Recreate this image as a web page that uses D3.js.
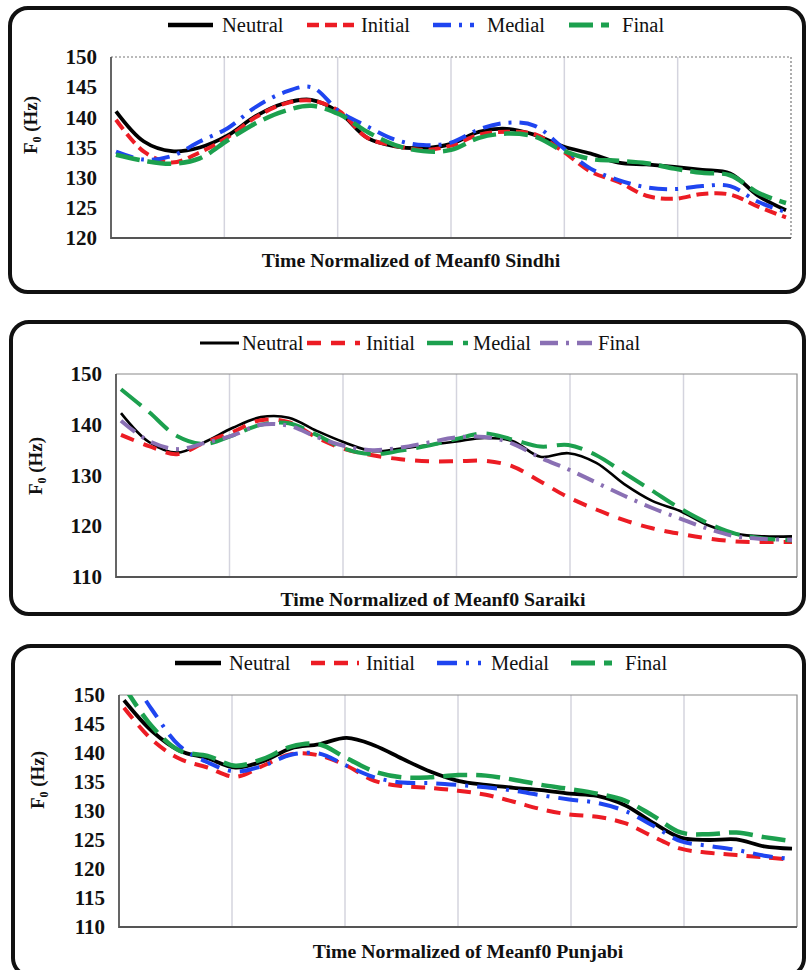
<!DOCTYPE html>
<html>
<head>
<meta charset="utf-8">
<script src="https://cdn.jsdelivr.net/npm/d3@7"></script>
<style>
  body { margin: 0; background: #fff; }
  svg { display: block; font-family: "Liberation Serif", "Times New Roman", serif; }
</style>
</head>
<body>
<svg id="chart" width="806" height="970"></svg>
<script>
// === Données (F0 moyen en Hz, 25 points de temps normalisé) ===
const timeSteps = d3.range(25);

const sindhiNeutral = [141.0,136.0,134.4,135.0,137.0,140.2,142.3,142.9,140.8,136.6,135.2,134.9,135.6,137.6,138.1,137.1,135.2,134.0,132.5,132.2,131.8,131.3,130.7,127.0,124.6];
const sindhiInitial = [139.6,134.3,132.5,134.2,136.7,140.0,142.2,142.8,141.0,136.6,135.3,134.6,135.3,137.1,137.6,137.2,134.4,131.0,129.3,127.0,126.5,127.3,127.2,125.2,123.4];
const sindhiMedial  = [134.3,133.0,133.6,136.0,138.2,141.7,144.1,145.0,141.0,138.5,136.3,135.4,135.8,138.0,139.1,138.6,135.0,131.5,129.6,128.4,128.1,128.6,128.6,126.0,124.3];
const sindhiFinal   = [133.8,132.8,132.3,133.2,136.2,139.0,141.0,141.9,140.5,137.6,135.4,134.4,134.6,136.6,137.3,136.8,134.5,133.1,132.8,132.4,131.5,130.8,130.4,127.5,125.8];

const saraikiNeutral = [142.3,136.6,134.5,136.6,139.4,141.5,141.4,138.8,136.5,134.8,135.3,136.0,136.7,137.4,136.8,133.7,134.4,132.5,128.3,125.0,123.0,120.2,118.5,118.0,118.0];
const saraikiInitial = [138.0,135.8,134.2,136.5,138.6,140.9,140.5,137.5,135.2,134.0,133.2,132.8,132.8,132.9,131.8,128.8,125.7,123.3,121.2,119.6,118.5,117.6,117.0,116.9,116.9];
const saraikiMedial  = [147.0,142.5,137.8,136.2,137.9,140.0,140.3,138.0,135.3,134.2,134.9,135.9,137.2,138.3,137.1,135.7,136.0,134.0,130.5,127.0,123.5,120.6,118.5,117.6,117.2];
const saraikiFinal   = [140.8,136.8,135.2,136.4,137.9,140.0,139.8,137.6,135.8,135.0,135.5,136.5,137.5,137.6,136.3,133.5,131.2,128.6,126.0,123.6,121.5,119.5,118.0,117.5,117.3];

const punjabiNeutral = [149.1,143.8,140.4,139.1,137.5,138.6,140.8,141.5,142.6,141.3,139.0,136.8,135.2,134.5,134.0,133.6,133.0,132.6,131.0,128.0,125.4,125.0,125.1,123.9,123.5];
const punjabiInitial = [147.8,142.3,139.0,137.5,135.9,137.8,139.8,139.6,137.8,135.2,134.3,134.0,133.5,132.8,131.6,130.3,129.4,129.0,127.9,125.6,123.5,122.8,122.4,122.0,121.6];
const punjabiMedial  = [155.0,147.5,141.2,138.4,136.8,137.8,139.7,139.9,137.8,135.8,134.9,134.8,134.5,134.1,133.5,132.7,132.0,131.4,130.0,127.5,124.8,124.0,123.3,122.3,121.7];
const punjabiFinal   = [151.5,144.6,140.4,139.5,137.8,139.0,141.1,141.5,139.1,136.8,135.8,135.8,136.2,136.1,135.4,134.5,133.8,133.0,131.8,129.2,126.3,126.0,126.3,125.5,124.8];

const ticksSindhi  = [120,125,130,135,140,145,150];
const ticksSaraiki = [110,120,130,140,150];
const ticksPunjabi = [110,115,120,125,130,135,140,145,150];

const titleSindhi  = 'Time Normalized of Meanf0 Sindhi';
const titleSaraiki = 'Time Normalized of Meanf0 Saraiki';
const titlePunjabi = 'Time Normalized of Meanf0 Punjabi';

// couleurs
const RED = '#ec1c24', BLUE = '#1f45f0', GREEN = '#1ca04e', PURPLE = '#8a70b4', BLACK = '#000';

const panels = [
  {
    box: [10, 8, 794, 284], plot: { l: 111, r: 791, t: 57, b: 238 },
    yDomain: [120, 150], ticks: ticksSindhi, title: titleSindhi, titleX: 411, titleY: 267,
    legendY: 25, ylabelX: 30, ylabelY: 125, dottedFrame: true,
    series: [
      { label: 'Neutral', values: sindhiNeutral, color: BLACK, dash: null, width: 3.8, lx: [168, 213], tx: 222 },
      { label: 'Initial', values: sindhiInitial, color: RED, dash: '12,6', width: 4, lx: [307, 354], tx: 361 },
      { label: 'Medial', values: sindhiMedial, color: BLUE, dash: '18,8,3,8', width: 4, lx: [433, 474], tx: 487 },
      { label: 'Final', values: sindhiFinal, color: GREEN, dash: '24,8', width: 4.5, lx: [569, 609], tx: 622 }
    ]
  },
  {
    box: [11, 322, 793, 292], plot: { l: 116, r: 797, t: 374, b: 577 },
    yDomain: [110, 150], ticks: ticksSaraiki, title: titleSaraiki, titleX: 433, titleY: 606,
    legendY: 343, ylabelX: 35, ylabelY: 466, dottedFrame: false,
    series: [
      { label: 'Neutral', values: saraikiNeutral, color: BLACK, dash: null, width: 2.6, lx: [200, 239], tx: 242 },
      { label: 'Initial', values: saraikiInitial, color: RED, dash: '14,10', width: 4, lx: [307, 360], tx: 366 },
      { label: 'Medial', values: saraikiMedial, color: GREEN, dash: '26,10', width: 4, lx: [427, 468], tx: 473 },
      { label: 'Final', values: saraikiFinal, color: PURPLE, dash: '18,8,3,8', width: 4, lx: [540, 592], tx: 598 }
    ]
  },
  {
    box: [13, 646, 791, 330], plot: { l: 119, r: 797, t: 695, b: 927 },
    yDomain: [110, 150], ticks: ticksPunjabi, title: titlePunjabi, titleX: 468, titleY: 958,
    legendY: 663, ylabelX: 37, ylabelY: 780, dottedFrame: false,
    series: [
      { label: 'Neutral', values: punjabiNeutral, color: BLACK, dash: null, width: 3.8, lx: [175, 221], tx: 229 },
      { label: 'Initial', values: punjabiInitial, color: RED, dash: '14,9', width: 4, lx: [311, 359], tx: 366 },
      { label: 'Medial', values: punjabiMedial, color: BLUE, dash: '20,9,3,9', width: 4, lx: [437, 481], tx: 491 },
      { label: 'Final', values: punjabiFinal, color: GREEN, dash: '24,9', width: 4.5, lx: [571, 612], tx: 625 }
    ]
  }
];

const svg = d3.select('#chart');
svg.append('rect').attr('width', 806).attr('height', 970).attr('fill', '#fff');

panels.forEach((p, idx) => {
  const g = svg.append('g');
  const { l, r, t, b } = p.plot;

  // cadre arrondi
  g.append('rect')
    .attr('x', p.box[0]).attr('y', p.box[1])
    .attr('width', p.box[2]).attr('height', p.box[3])
    .attr('rx', 18).attr('ry', 18)
    .attr('fill', 'none').attr('stroke', '#111').attr('stroke-width', 4);

  const x = d3.scaleLinear().domain([0, 24]).range([l + 5, r - 5]);
  const y = d3.scaleLinear().domain(p.yDomain).range([b, t]);

  // grille verticale
  g.append('g').selectAll('line')
    .data(d3.range(1, 6))
    .join('line')
    .attr('x1', d => l + (r - l) * d / 6).attr('x2', d => l + (r - l) * d / 6)
    .attr('y1', t).attr('y2', b)
    .attr('stroke', '#d4d4de').attr('stroke-width', 1.5);

  // bord haut / droit
  g.append('path')
    .attr('d', `M${l},${t}H${r}V${b}`)
    .attr('fill', 'none')
    .attr('stroke', p.dottedFrame ? '#777' : '#8a8a8a')
    .attr('stroke-width', 1.2)
    .attr('stroke-dasharray', p.dottedFrame ? '2,2' : null);

  // axes
  g.append('path')
    .attr('d', `M${l},${t}V${b}H${r}`)
    .attr('fill', 'none').attr('stroke', '#555').attr('stroke-width', 1.8);

  const yAxis = g.append('g')
    .attr('transform', `translate(${l},0)`)
    .call(d3.axisLeft(y).tickValues(p.ticks).tickSize(0).tickPadding(14).tickFormat(d3.format('d')));
  yAxis.select('.domain').remove();
  yAxis.selectAll('text')
    .attr('font-family', '"Liberation Serif", serif')
    .attr('font-size', 21).attr('font-weight', 'bold').attr('fill', '#111');

  // courbes
  const clipId = 'clip' + idx;
  svg.append('clipPath').attr('id', clipId)
    .append('rect').attr('x', l).attr('y', t).attr('width', r - l).attr('height', b - t);

  const line = d3.line()
    .x((d, i) => x(timeSteps[i]))
    .y(d => y(d))
    .curve(d3.curveCatmullRom.alpha(0.5));

  const lines = g.append('g').attr('clip-path', `url(#${clipId})`);
  p.series.forEach(s => {
    lines.append('path')
      .attr('d', line(s.values))
      .attr('fill', 'none')
      .attr('stroke', s.color)
      .attr('stroke-width', s.width)
      .attr('stroke-dasharray', s.dash)
      .attr('stroke-linejoin', 'round');
  });

  // légende
  const leg = g.append('g');
  p.series.forEach(s => {
    leg.append('line')
      .attr('x1', s.lx[0]).attr('x2', s.lx[1])
      .attr('y1', p.legendY).attr('y2', p.legendY)
      .attr('stroke', s.color).attr('stroke-width', s.width + 0.5)
      .attr('stroke-dasharray', s.dash);
    leg.append('text')
      .attr('x', s.tx).attr('y', p.legendY + 7)
      .attr('font-size', 20.5).attr('fill', '#111')
      .text(s.label);
  });

  // titre de l'axe x
  g.append('text')
    .attr('x', p.titleX).attr('y', p.titleY)
    .attr('text-anchor', 'middle')
    .attr('font-size', 19.8).attr('font-weight', 'bold').attr('fill', '#111')
    .text(p.title);

  // titre de l'axe y : F0 (Hz)
  const yl = g.append('text')
    .attr('transform', `translate(${p.ylabelX + 7},${p.ylabelY}) rotate(-90)`)
    .attr('text-anchor', 'middle')
    .attr('font-size', 19).attr('font-weight', 'bold').attr('fill', '#111');
  yl.append('tspan').text('F');
  yl.append('tspan').attr('font-size', 12).attr('dy', 4).text('0');
  yl.append('tspan').attr('dy', -4).text(' (Hz)');
});
</script>
</body>
</html>
